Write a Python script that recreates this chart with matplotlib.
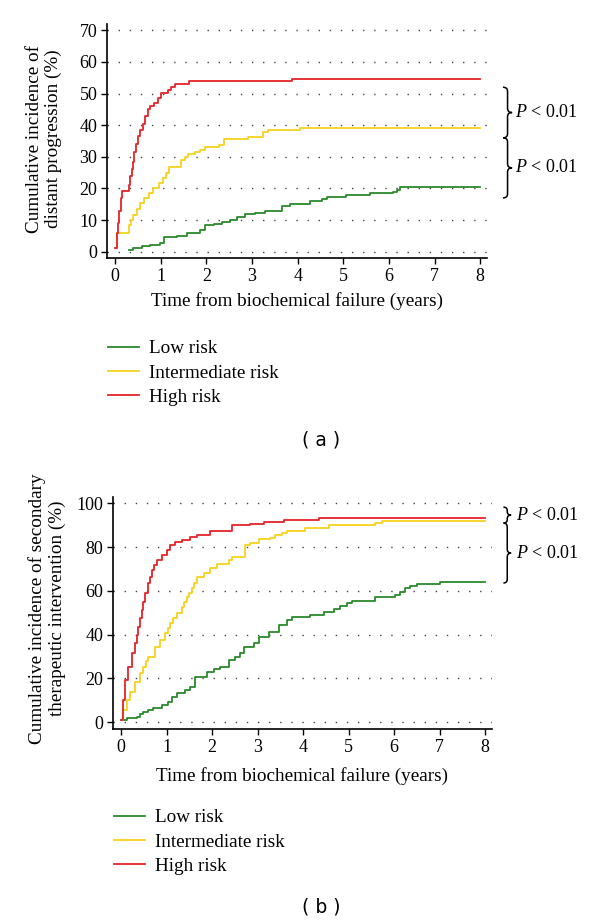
import numpy as np
import matplotlib
matplotlib.use("Agg")
import matplotlib.pyplot as plt
from matplotlib.path import Path
from matplotlib.patches import PathPatch
from matplotlib.lines import Line2D

plt.rcParams['font.family'] = ['Liberation Serif', 'DejaVu Serif']
plt.rcParams['mathtext.fontset'] = 'custom'
plt.rcParams['mathtext.rm'] = 'Liberation Serif'
plt.rcParams['mathtext.it'] = 'Liberation Serif:italic'

GREEN = '#2b8a2b'
YELLOW = '#f7d21e'
RED = '#e5232a'
series_names = ['Low risk', 'Intermediate risk', 'High risk']

# panel (a): distant progression, step curves (years, %)
a_low_t = [0.31, 0.40, 0.58, 0.77, 0.99, 1.06, 1.35, 1.57, 1.86, 1.97, 2.16, 2.34, 2.52,
           2.67, 2.85, 3.07, 3.29, 3.66, 3.84, 4.28, 4.53, 4.64, 5.06, 5.59, 6.10, 6.18, 6.25, 8.0]
a_low_v = [0.6, 1.2, 1.7, 2.2, 2.7, 4.6, 5.0, 5.9, 6.7, 8.3, 8.8, 9.4, 9.9,
           11.1, 11.9, 12.2, 13.0, 14.5, 15.1, 15.9, 16.6, 17.2, 17.8, 18.5, 19.0, 19.6, 20.3, 20.3]
a_int_t = [0, 0.04, 0.31, 0.34, 0.40, 0.47, 0.55, 0.64, 0.74, 0.82, 0.95, 1.04, 1.12, 1.19,
           1.44, 1.52, 1.60, 1.76, 1.86, 1.97, 2.27, 2.38, 2.92, 3.25, 3.36, 4.06, 8.0]
a_int_v = [1.0, 6.0, 8.5, 10.0, 11.7, 13.5, 15.4, 17.0, 18.5, 20.0, 21.6, 23.2, 25.0, 26.9,
           29.0, 30.0, 31.0, 31.6, 32.2, 33.0, 33.8, 35.5, 36.4, 38.0, 38.5, 39.2, 39.2]
a_high_t = [0, 0.03, 0.06, 0.09, 0.12, 0.16, 0.30, 0.33, 0.36, 0.39, 0.42, 0.46, 0.50, 0.55,
            0.60, 0.66, 0.71, 0.76, 0.86, 0.93, 1.0, 1.15, 1.22, 1.30, 1.62, 3.88, 8.0]
a_high_v = [1.0, 6.0, 9.0, 13.0, 17.0, 19.3, 21.0, 23.8, 26.0, 28.5, 31.5, 34.0, 36.5, 38.5,
            40.5, 43.0, 45.0, 46.0, 47.0, 48.5, 50.3, 51.0, 52.0, 53.0, 54.0, 54.6, 54.6]

# panel (b): secondary therapeutic intervention
b_low_t = [0, 0.12, 0.35, 0.42, 0.49, 0.60, 0.71, 0.89, 1.04, 1.11, 1.22, 1.41, 1.52, 1.63,
           1.88, 2.03, 2.18, 2.36, 2.50, 2.62, 2.69, 2.91, 3.02, 3.24, 3.46, 3.64, 3.75, 4.15,
           4.45, 4.67, 4.81, 4.96, 5.07, 5.58, 6.02, 6.13, 6.24, 6.35, 6.50, 7.01, 8.0]
b_low_v = [1.0, 1.8, 2.6, 3.7, 4.8, 5.6, 6.4, 7.9, 9.4, 11.7, 13.2, 14.7, 16.3, 20.8,
           23.1, 24.2, 25.4, 28.4, 30.0, 31.5, 34.5, 36.1, 39.1, 41.4, 44.4, 46.7, 48.2, 49.0,
           50.5, 51.7, 53.1, 54.6, 55.6, 57.4, 58.1, 59.6, 61.2, 62.2, 63.2, 64.2, 64.2]
b_int_t = [0, 0.05, 0.12, 0.20, 0.31, 0.42, 0.49, 0.55, 0.60, 0.75, 0.86, 0.97, 1.03, 1.08,
           1.15, 1.22, 1.33, 1.39, 1.44, 1.50, 1.55, 1.60, 1.66, 1.81, 1.96, 2.10, 2.36, 2.43,
           2.73, 2.84, 3.02, 3.27, 3.38, 3.53, 3.64, 4.04, 4.56, 5.58, 5.73, 8.0]
b_int_v = [1.0, 5.6, 10.2, 14.0, 18.5, 22.4, 25.4, 28.0, 30.0, 34.5, 37.6, 40.6, 43.0, 45.2,
           47.5, 49.8, 52.8, 55.0, 57.3, 59.0, 61.2, 63.5, 66.5, 68.0, 70.3, 72.5, 74.1, 75.6,
           81.0, 81.7, 83.6, 84.0, 85.5, 86.3, 87.5, 88.6, 90.1, 90.9, 92.0, 92.0]
b_high_t = [0, 0.03, 0.05, 0.09, 0.16, 0.24, 0.31, 0.35, 0.38, 0.42, 0.45, 0.49, 0.53, 0.60,
            0.64, 0.67, 0.73, 0.78, 0.89, 1.0, 1.08, 1.19, 1.33, 1.52, 1.66, 1.96, 2.43, 2.84,
            3.13, 3.57, 4.34, 8.0]
b_high_v = [1.0, 6.0, 10.0, 19.3, 25.4, 31.5, 36.0, 40.0, 43.7, 47.5, 51.3, 55.0, 58.9, 63.5,
            66.5, 69.5, 72.0, 74.1, 76.4, 78.7, 81.0, 82.5, 83.2, 84.5, 85.5, 87.5, 90.0, 90.5,
            91.6, 92.4, 93.4, 93.4]


def brace(ax, x, y0, y1, w, r):
    # right-facing curly brace in data coords
    ym = (y0 + y1) / 2
    xm = x + w / 2
    verts = [(x, y1), (xm, y1), (xm, y1 - r), (xm, ym + r), (xm, ym), (x + w, ym),
             (xm, ym), (xm, ym - r), (xm, y0 + r), (xm, y0), (x, y0)]
    codes = [Path.MOVETO, Path.CURVE3, Path.CURVE3, Path.LINETO, Path.CURVE3, Path.CURVE3,
             Path.CURVE3, Path.CURVE3, Path.LINETO, Path.CURVE3, Path.CURVE3]
    ax.add_patch(PathPatch(Path(verts, codes), fill=False, lw=1.1, color='black', clip_on=False))


def style_axes(ax, ylim, yticks):
    ax.set_xlim(-0.18, 8.15)
    ax.set_ylim(*ylim)
    ax.set_xticks(range(9))
    ax.set_yticks(yticks)
    for s in ['top', 'right']:
        ax.spines[s].set_visible(False)
    for s in ['left', 'bottom']:
        ax.spines[s].set_linewidth(1.2)
    ax.tick_params(direction='out', length=4, width=1, labelsize=13, pad=3)
    for yv in yticks:
        ax.axhline(yv, color='#444444', lw=1.0, dashes=(1, 7), zorder=0)


fig = plt.figure(figsize=(6, 9.23), dpi=100)
LBL = 13.8

ax1 = fig.add_axes([0.1783, 0.7205, 0.6334, 0.2535])
ax1.step(a_low_t, a_low_v, where='post', color=GREEN, lw=1.3)
ax1.step(a_int_t, a_int_v, where='post', color=YELLOW, lw=1.3)
ax1.step(a_high_t, a_high_v, where='post', color=RED, lw=1.3)
style_axes(ax1, (-2, 72), range(0, 71, 10))
ax1.set_xlabel('Time from biochemical failure (years)', fontsize=LBL, labelpad=5)
ax1.set_ylabel('Cumulative incidence of\ndistant progression (%)', fontsize=LBL, linespacing=1.15)
ax1.yaxis.set_label_coords(-0.118, 0.51)
brace(ax1, 8.5, 36.0, 52.0, 0.2, 1.3)
brace(ax1, 8.5, 17.0, 36.0, 0.2, 1.3)
ax1.text(8.77, 44.0, '$P$ < 0.01', fontsize=13, va='center', ha='left', clip_on=False)
ax1.text(8.77, 26.5, '$P$ < 0.01', fontsize=13, va='center', ha='left', clip_on=False)

ax2 = fig.add_axes([0.1883, 0.2102, 0.6317, 0.2513])
ax2.step(b_low_t, b_low_v, where='post', color=GREEN, lw=1.3)
ax2.step(b_int_t, b_int_v, where='post', color=YELLOW, lw=1.3)
ax2.step(b_high_t, b_high_v, where='post', color=RED, lw=1.3)
style_axes(ax2, (-3.1, 102.9), range(0, 101, 20))
ax2.set_xlabel('Time from biochemical failure (years)', fontsize=LBL, labelpad=8.5)
ax2.set_ylabel('Cumulative incidence of secondary\ntherapeutic intervention (%)', fontsize=LBL,
               linespacing=1.15)
ax2.yaxis.set_label_coords(-0.125, 0.52)
brace(ax2, 8.4, 91.0, 98.3, 0.17, 1.6)
brace(ax2, 8.4, 63.6, 91.0, 0.17, 1.8)
ax2.text(8.68, 94.6, '$P$ < 0.01', fontsize=13, va='center', ha='left', clip_on=False)
ax2.text(8.68, 77.3, '$P$ < 0.01', fontsize=13, va='center', ha='left', clip_on=False)

handles = [Line2D([], [], color=c, lw=1.3) for c in (GREEN, YELLOW, RED)]
fig.legend(handles, series_names, loc='upper left', bbox_to_anchor=(0.168, 0.640),
           frameon=False, fontsize=LBL, handlelength=1.6, handletextpad=0.5,
           labelspacing=0.36, borderaxespad=0)
fig.legend(handles, series_names, loc='upper left', bbox_to_anchor=(0.178, 0.132),
           frameon=False, fontsize=LBL, handlelength=1.6, handletextpad=0.5,
           labelspacing=0.36, borderaxespad=0)

fig.text(0.535, 1 - 440 / 923, '( a )', family='DejaVu Sans', fontsize=13.5, ha='center', va='center')
fig.text(0.535, 1 - 907 / 923, '( b )', family='DejaVu Sans', fontsize=13.5, ha='center', va='center')

fig.savefig('out.png', dpi=100)
